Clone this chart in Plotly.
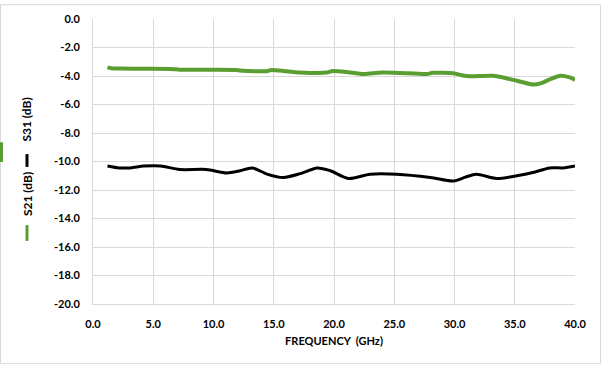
import plotly.graph_objects as go

s21_freq = [1.2, 1.5, 2.2, 4.0, 6.5, 7.2, 9.0, 11.9, 12.5, 14.4, 14.8, 15.5, 17.2, 19.4, 19.8, 21.0,
            22.4, 23.2, 24.1, 25.5, 27.7, 28.2, 29.9, 30.6, 31.3, 33.2, 34.5, 35.5, 36.5, 37.2,
            38.0, 38.8, 39.5, 40.0]
s21_db = [-3.39, -3.45, -3.48, -3.49, -3.50, -3.56, -3.57, -3.58, -3.64, -3.66, -3.58, -3.62, -3.75,
          -3.76, -3.66, -3.72, -3.86, -3.80, -3.76, -3.79, -3.86, -3.78, -3.80, -3.95, -4.02, -3.99,
          -4.20, -4.40, -4.60, -4.50, -4.20, -3.98, -4.08, -4.27]

s31_freq = [1.2, 2.2, 3.1, 4.2, 5.6, 7.2, 9.4, 11.1, 12.2, 13.2, 14.5, 15.8, 17.2, 18.6, 19.7, 21.2,
            23.0, 25.2, 28.0, 29.9, 30.9, 31.8, 33.5, 35.4, 36.5, 37.9, 39.0, 40.0]
s31_db = [-10.31, -10.45, -10.45, -10.32, -10.31, -10.56, -10.56, -10.80, -10.65, -10.45, -10.90,
          -11.12, -10.85, -10.45, -10.65, -11.19, -10.89, -10.89, -11.12, -11.37, -11.10, -10.89,
          -11.19, -10.96, -10.77, -10.45, -10.45, -10.31]

x_ticks = [0, 5, 10, 15, 20, 25, 30, 35, 40]
y_ticks = [0, -2, -4, -6, -8, -10, -12, -14, -16, -18, -20]

GREEN = "#5a9e32"
FONT = "Lato"

fig = go.Figure()
fig.add_trace(go.Scatter(x=s31_freq, y=s31_db, mode="lines", name="S31 (dB)",
                         line=dict(color="black", width=3, shape="spline", smoothing=0.8)))
fig.add_trace(go.Scatter(x=s21_freq, y=s21_db, mode="lines", name="S21 (dB)",
                         line=dict(color=GREEN, width=4, shape="spline", smoothing=0.6)))

W, H = 602, 366
L, R, T, B = 93, 27, 15, 62
pw, ph = W - L - R, H - T - B


def px(x):
    return (x - L) / pw


def py(y):
    return 1 - (y - T) / ph


fig.update_layout(
    width=W, height=H,
    margin=dict(l=L, r=R, t=T, b=B),
    paper_bgcolor="white", plot_bgcolor="white",
    showlegend=False,
    font=dict(family=FONT, size=11, color="black"),
    xaxis=dict(range=[0, 40], tickvals=x_ticks, ticktext=[f"{v:.1f}" for v in x_ticks],
               showgrid=True, gridcolor="#d9d9d9", gridwidth=1, zeroline=False,
               showline=True, linecolor="#d9d9d9", ticks="", ticklabelstandoff=10,
               tickfont=dict(family=FONT, size=11, color="black", weight="bold"),
               title=dict(text="FREQUENCY  (GHz)", font=dict(family=FONT, size=11, weight="bold"),
                          standoff=8)),
    yaxis=dict(range=[-20, 0], tickvals=y_ticks, ticktext=[f"{v:.1f}" for v in y_ticks],
               showgrid=True, gridcolor="#d9d9d9", gridwidth=1, zeroline=False,
               showline=True, linecolor="#d9d9d9", ticks="", ticklabelstandoff=10,
               tickfont=dict(family=FONT, size=11, color="black", weight="bold")),
)
# rotated y-axis title pieces with series keys
for label, yc in (("S31 (dB)", 117), ("S21 (dB)", 192.5)):
    fig.add_annotation(xref="paper", yref="paper", x=px(27), y=py(yc),
                       xanchor="center", yanchor="middle", textangle=-90, showarrow=False,
                       text=label, font=dict(family=FONT, size=12, weight="bold", color="black"))
for color, y0, y1 in (("black", 152, 165), (GREEN, 224, 240)):
    fig.add_shape(type="line", xref="paper", yref="paper", x0=px(27), x1=px(27),
                  y0=py(y0), y1=py(y1), line=dict(color=color, width=3))
# outer chart border
fig.add_shape(type="rect", xref="paper", yref="paper",
              x0=px(0.5), x1=px(W - 1.5), y0=py(H - 1.5), y1=py(0.5),
              line=dict(color="#d9d9d9", width=1), fillcolor="rgba(0,0,0,0)", layer="below")
# small green mark at left edge
fig.add_shape(type="line", xref="paper", yref="paper",
              x0=px(1.5), x1=px(1.5), y0=py(140), y1=py(160),
              line=dict(color=GREEN, width=3))

fig.write_html("out.html", config={"displayModeBar": False},
               post_script="document.body.style.margin='0';document.body.style.padding='0';")
